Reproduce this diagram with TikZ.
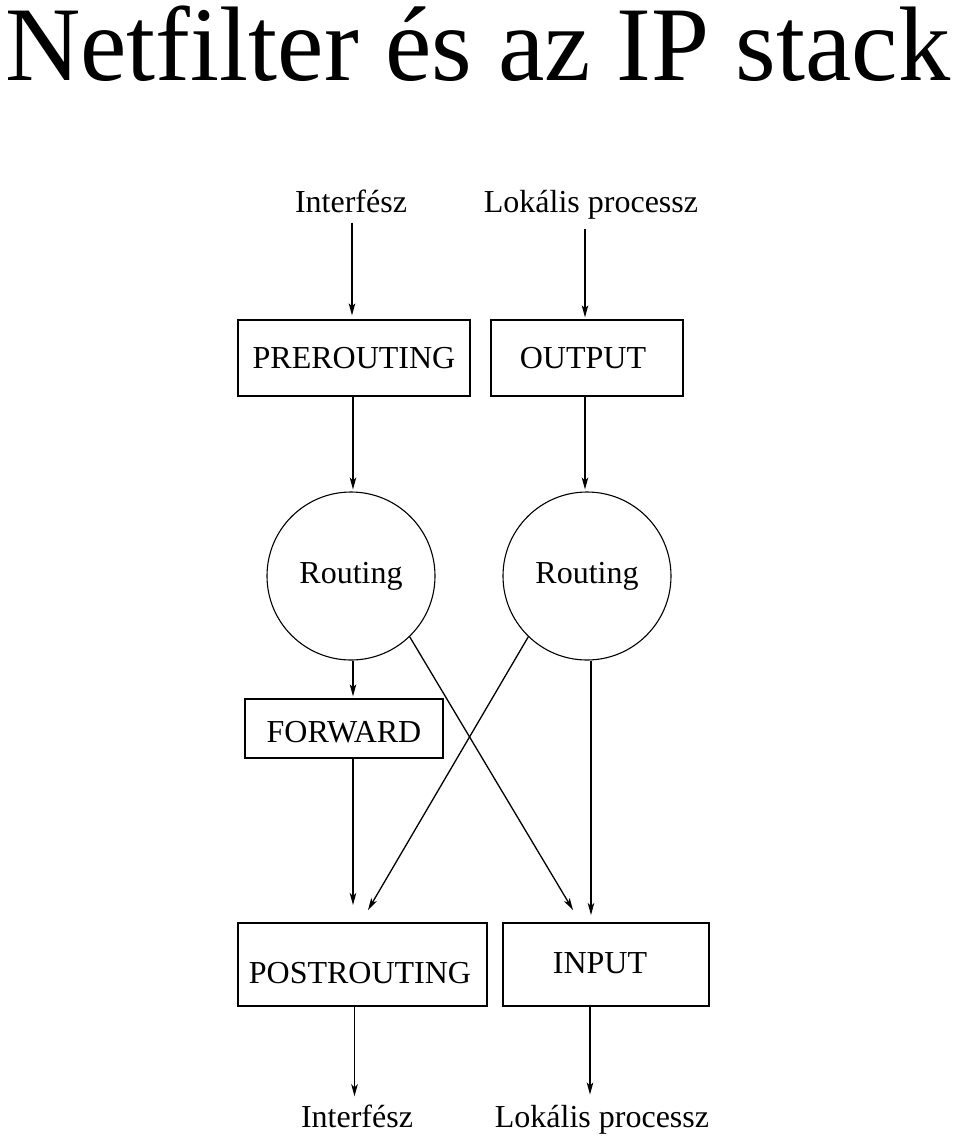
\documentclass[tikz,border=0pt]{standalone}
\usepackage{fontspec}
\setmainfont{Liberation Serif}
\usetikzlibrary{arrows.meta,shapes.geometric}
\tikzset{
  lbl/.style={inner sep=0pt, anchor=base, font=\fontsize{32}{36}\selectfont},
  boxnode/.style={draw, line width=1.3pt, rectangle, inner sep=0pt, font=\fontsize{32}{36}\selectfont, text depth=0pt},
  routenode/.style={draw, line width=1.1pt, circle, inner sep=0pt, minimum size=168pt, font=\fontsize{32}{36}\selectfont, text height=14pt, text depth=0pt},
  arr/.style={line width=1.3pt, -{Stealth[length=12pt,width=6.5pt,inset=3pt]}}
}
\begin{document}
\begin{tikzpicture}[x=1pt,y=-1pt]
\useasboundingbox (0,0) rectangle (960,1136);
\node[inner sep=0pt, anchor=base west, font=\fontsize{106}{110}\selectfont] (title) at (5,80) {\scalebox{0.985}[1]{Netfilter és az IP stack}};

\node[lbl] (if1) at (351,212) {Interfész};
\node[lbl] (lp1) at (591,212) {Lokális processz};

\node[boxnode, minimum width=232pt, minimum height=76pt, text height=20pt] (pre) at (354,358) {PREROUTING};
\node[boxnode, minimum width=192pt, minimum height=76pt, text height=20pt] (out) at (587,358) {\hspace*{-8pt}OUTPUT};

\node[routenode] (r1) at (351,576) {Routing};
\node[routenode] (r2) at (587,576) {Routing};

\node[boxnode, minimum width=198pt, minimum height=59pt, text height=27pt] (fw) at (344,728.5) {FORWARD};

\node[boxnode, minimum width=249pt, minimum height=83pt, text height=37pt] (post) at (362.5,964.5) {\hspace*{-5pt}POSTROUTING};
\node[boxnode, minimum width=206pt, minimum height=83pt, text height=17pt] (in) at (606,964.5) {\hspace*{-12pt}INPUT};

\node[lbl] (if2) at (357,1127) {Interfész};
\node[lbl] (lp2) at (602,1127) {Lokális processz};

\coordinate (postL) at (353,905);
\coordinate (postR) at (368,910);
\coordinate (inL) at (573,910);
\coordinate (inR) at (591,915);

% top inputs
\draw[arr, shorten <=10pt, shorten >=4pt] ([xshift=-2pt]pre.north |- if1.south) -- ([xshift=-2pt]pre.north);
\draw[arr, shorten <=10pt, shorten >=2pt] ([xshift=-2pt]out.north |- lp1.south) -- ([xshift=-2pt]out.north);
% boxes to routing
\draw[arr, shorten >=2pt] ([xshift=-1pt]pre.south) -- ([xshift=-1pt]pre.south |- r1.north);
\draw[arr, shorten >=2pt] ([xshift=-2pt]out.south) -- ([xshift=-2pt]out.south |- r2.north);
% routing to forward
\draw[arr, shorten >=2pt] ([xshift=2pt]r1.south) -- ([xshift=2pt]r1.south |- fw.north);
% forward to postrouting
\draw[arr] ([xshift=9pt]fw.south) -- (postL);
% crossing lines
\draw[arr] (r1.-46) -- (inL);
\draw[arr] (r2.-134) -- (postR);
\draw[arr] ([xshift=4pt]r2.south) -- (inR);
% outputs
\draw[arr, shorten >=8pt] ([xshift=-8pt]post.south) -- ([xshift=-8pt]post.south |- if2.north);
\draw[arr, shorten >=10pt] ([xshift=-16pt]in.south) -- ([xshift=-16pt]in.south |- lp2.north);
\end{tikzpicture}
\end{document}
